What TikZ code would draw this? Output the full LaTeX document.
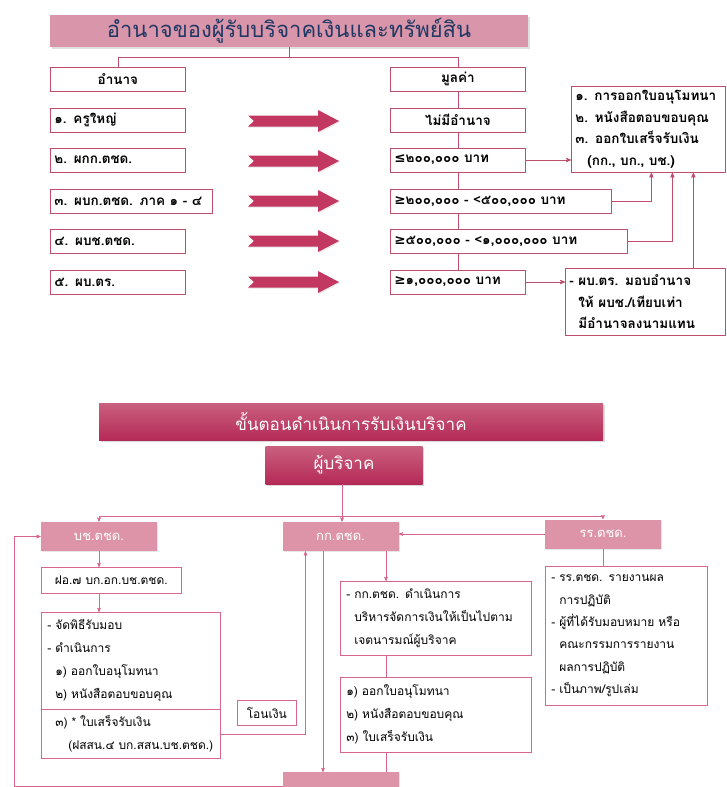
\documentclass[tikz,border=0pt]{standalone}
\usepackage{fontspec}
\setmainfont[Script=Thai]{Loma}
\newfontfamily\symfont{DejaVu Sans}
\usetikzlibrary{positioning,arrows,shadows}
\definecolor{boxred}{RGB}{190,78,108}
\definecolor{arrowred}{RGB}{194,56,96}
\definecolor{headpink}{RGB}{217,150,170}
\definecolor{headblue}{RGB}{31,56,100}
\definecolor{stepfill}{RGB}{221,148,169}
\definecolor{steptop}{RGB}{202,96,128}
\definecolor{stepbot}{RGB}{180,42,86}
\definecolor{pinkline}{RGB}{216,102,140}

\begin{document}
\begin{tikzpicture}[x=1pt,y=-1pt,>=stealth']
\useasboundingbox (0,0) rectangle (727,787);

% upper part: who may sign, and up to which amount
\begin{scope}[thick,draw=boxred,
		head/.style={rectangle,fill=headpink,text=headblue,minimum width=478,minimum height=32,
			font=\fontsize{22}{24}\selectfont,drop shadow={opacity=0.25,shadow xshift=1.5pt,shadow yshift=-1.5pt}},
		item/.style={rectangle,draw=boxred,fill=white,anchor=west,text width=127,minimum height=24,
			inner xsep=4pt,align=left,font=\bfseries\fontsize{13.5}{15}\selectfont},
		hitem/.style={item,align=center},
		note/.style={rectangle,draw=boxred,fill=white,anchor=north west,align=left,inner xsep=4pt,
			font=\bfseries\fontsize{13.5}{21.5}\selectfont},
		link/.style={draw=boxred,thick},
		blockarrow/.style={fill=arrowred,drop shadow={opacity=0.2,shadow xshift=1pt,shadow yshift=-1pt}}]
   \node [head]  (t1)	at (289,31)	{อำนาจของผู้รับบริจาคเงินและทรัพย์สิน};
   \node [hitem] (hpow)	at (50,79)	{อำนาจ};
   \node [hitem] (hval)	at (390,79)	{มูลค่า};
   \draw [link] (t1.south) -- ++(0,10) -| (hpow.north);
   \draw [link] (t1.south) -- ++(0,10) -| (hval.north);

   \node [item] (p1) at (50,120) {๑. ครูใหญ่};
   \node [item] (p2) at (50,160) {๒. ผกก.ตชด.};
   \node [item,text width=154] (p3) at (50,201) {๓. ผบก.ตชด. ภาค ๑ - ๔};
   \node [item] (p4) at (50,241) {๔. ผบช.ตชด.};
   \node [item] (p5) at (50,282) {๕. ผบ.ตร.};

   \foreach \y in {121,161,201,241,282}
     \fill [blockarrow] (248,\y-5.5) -- (318,\y-5.5) -- (318,\y-11) -- (339,\y) -- (318,\y+11)
       -- (318,\y+5.5) -- (248,\y+5.5) -- (254,\y) -- cycle;

   \node [hitem] (v0) at (390,120) {ไม่มีอำนาจ};
   \node [item] (v1) at (390,160) {{\symfont ≤}๒๐๐,๐๐๐ บาท};
   \node [item,text width=213] (v2) at (390,201) {{\symfont ≥}๒๐๐,๐๐๐ - <๕๐๐,๐๐๐ บาท};
   \node [item,text width=229] (v3) at (390,241) {{\symfont ≥}๕๐๐,๐๐๐ - <๑,๐๐๐,๐๐๐ บาท};
   \node [item] (v4) at (390,282) {{\symfont ≥}๑,๐๐๐,๐๐๐ บาท};
   \draw [link] (hval.south) -- (v0.north);
   \draw [link] (v0.south) -- (v1.north);
   \draw [link] (v1.south) -- (v1.south |- v2.north);
   \draw [link] (v1.south |- v2.south) -- (v1.south |- v3.north);
   \draw [link] (v1.south |- v3.south) -- (v4.north);

   \node [note,text width=146,minimum height=86] (docs) at (571,86)
      {๑. การออกใบอนุโมทนา\\๒. หนังสือตอบขอบคุณ\\๓. ออกใบเสร็จรับเงิน\\\hspace*{12pt}(กก., บก., บช.)};
   \node [note,text width=152,minimum height=67] (sign) at (565,268)
      {- ผบ.ตร. มอบอำนาจ\\\hspace*{9pt}ให้ ผบช./เทียบเท่า\\\hspace*{9pt}มีอำนาจลงนามแทน};
   \draw [link,->] (v1.east) -- (v1.east -| docs.west);
   \draw [link,->] (v2.east) -| ([xshift=3pt]docs.south);
   \draw [link,->] (v3.east) -| ([xshift=24pt]docs.south);
   \draw [link,->] ([xshift=48pt]sign.north) -- ([xshift=48pt]sign.north |- docs.south);
   \draw [link,->] (v4.east) -- (v4.east -| sign.west);
\end{scope}

% lower part: steps for a donation
\begin{scope}[semithick,
		bar/.style={rectangle,top color=steptop,bottom color=stepbot,text=white,
			drop shadow={opacity=0.3,shadow xshift=1.5pt,shadow yshift=-1.5pt}},
		unit/.style={rectangle,fill=stepfill,text=white,minimum width=116,minimum height=29,
			font=\fontsize{13}{15}\selectfont,drop shadow={opacity=0.2,shadow xshift=1pt,shadow yshift=-1pt}},
		txt/.style={rectangle,draw=pinkline,fill=white,anchor=north west,align=left,inner xsep=6pt,
			font=\fontsize{12}{23}\selectfont},
		flow/.style={draw=pinkline,semithick}]
   \node [bar,minimum width=504,minimum height=37,font=\fontsize{17}{19}\selectfont]
      (t2) at (351,421.5) {ขั้นตอนดำเนินการรับเงินบริจาค};
   \node [bar,minimum width=157,minimum height=38,font=\fontsize{17}{19}\selectfont]
      (donor) at (344,465) {ผู้บริจาค};

   \node [unit] (bc) at (99,536.5)  {บช.ตชด.};
   \node [unit] (kk) at (340.5,536.5) {กก.ตชด.};
   \node [unit] (rr) at (603,534)  {รร.ตชด.};
   \coordinate (split) at (342,516);
   \draw [flow,->] (donor.south -| split) -- (kk.north -| split);
   \draw [flow,->] (split) -| (bc.north);
   \draw [flow,->] (split) -| (rr.north);
   \draw [flow,->] (rr.west) -- (rr.west -| kk.east);

   \node [txt,text width=128,minimum height=26,align=center] (fo) at (41,567) {ฝอ.๗ บก.อก.บช.ตชด.};
   \node [txt,text width=167,minimum height=97] (cerA) at (41,612)
      {- จัดพิธีรับมอบ\\- ดำเนินการ\\\hspace*{8pt}๑) ออกใบอนุโมทนา\\\hspace*{8pt}๒) หนังสือตอบขอบคุณ};
   \node [txt,text width=167,minimum height=49] (cerB) at (41,709)
      {\hspace*{8pt}๓) * ใบเสร็จรับเงิน\\\hspace*{21pt}(ฝสสน.๔ บก.สสน.บช.ตชด.)};
   \draw [flow,->] (bc.south) -- (bc.south |- fo.north);
   \draw [flow,->] (bc.south |- fo.south) -- (bc.south |- cerA.north);

   \node [txt,text width=47,minimum height=25,align=center] (money) at (237,700) {โอนเงิน};
   \draw [flow,->] (cerB.east) -| ([xshift=-35pt]kk.south);

   \node [txt,text width=179,minimum height=74] (kktxt) at (340,581)
      {- กก.ตชด. ดำเนินการ\\\hspace*{8pt}บริหารจัดการเงินให้เป็นไปตาม\\\hspace*{8pt}เจตนารมณ์ผู้บริจาค};
   \node [txt,text width=179,minimum height=75] (kkdoc) at (340,677)
      {๑) ออกใบอนุโมทนา\\๒) หนังสือตอบขอบคุณ\\๓) ใบเสร็จรับเงิน};
   \node [txt,text width=150,minimum height=139,font=\fontsize{12}{22.4}\selectfont] (rrtxt) at (545,566)
      {- รร.ตชด. รายงานผล\\\hspace*{8pt}การปฏิบัติ\\- ผู้ที่ได้รับมอบหมาย หรือ\\\hspace*{8pt}คณะกรรมการรายงาน\\\hspace*{8pt}ผลการปฏิบัติ\\- เป็นภาพ/รูปเล่ม};
   \draw [flow,->] ([xshift=45.5pt]kk.south) -- ([xshift=45.5pt]kk.south |- kktxt.north);
   \draw [flow] ([xshift=45.5pt]kk.south |- kktxt.south) -- ([xshift=45.5pt]kk.south |- kkdoc.north);
   \draw [flow] (rr.south) -- (rr.south |- rrtxt.north);

   \node [unit,anchor=north west,minimum height=30] (hq) at (283,772) {};
   \draw [flow,->] ([xshift=-17.5pt]kk.south) -- ([xshift=-17.5pt]kk.south |- hq.north);
   \draw [flow] ([xshift=45.5pt]kk.south |- kkdoc.south) -- ([xshift=45.5pt]kk.south |- hq.north);
   \coordinate (loop) at (14,786);
   \draw [flow,->] (hq.west |- loop) -- (loop) |- (bc.west);
\end{scope}
\end{tikzpicture}
\end{document}
